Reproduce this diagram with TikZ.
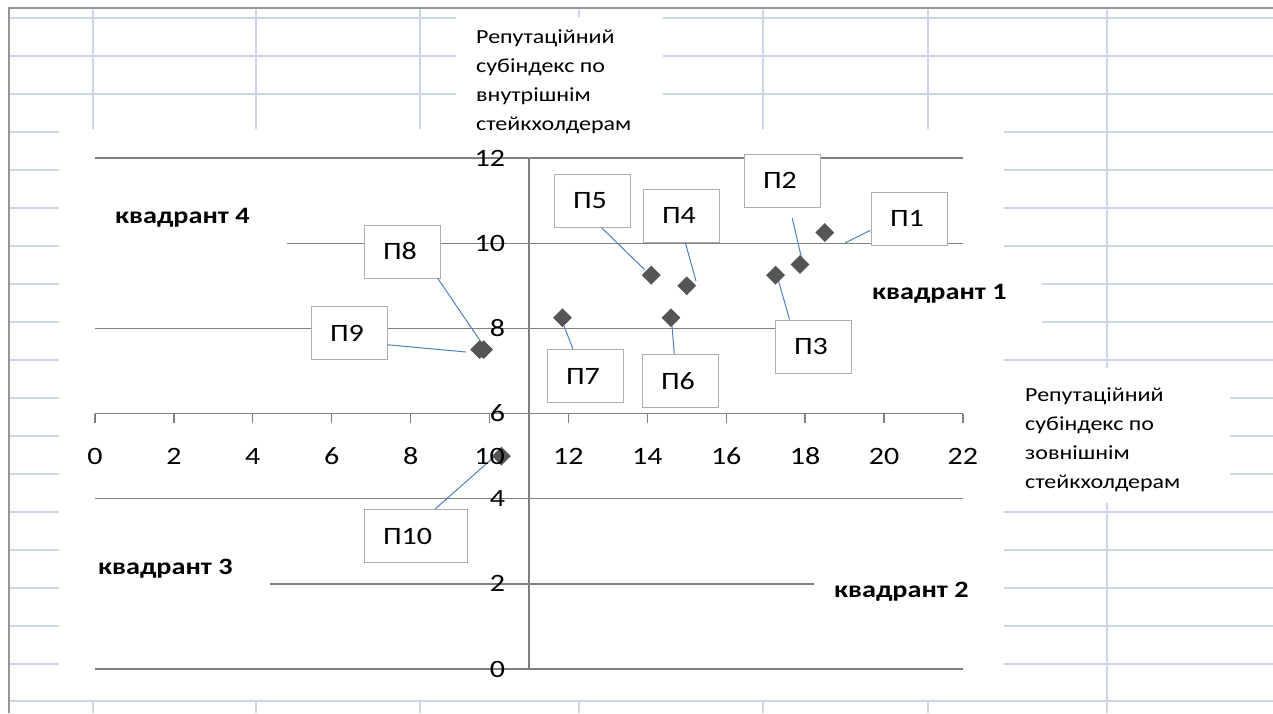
\documentclass[tikz,border=0pt]{standalone}
\usepackage{fontspec}
\setmainfont{Carlito}[FakeStretch=1.2]
\usetikzlibrary{shapes.geometric}

\definecolor{cellline}{RGB}{205,213,235}
\definecolor{framegray}{RGB}{150,150,150}
\definecolor{gridgray}{RGB}{128,128,128}
\definecolor{markgray}{RGB}{85,85,85}
\definecolor{boxgray}{RGB}{175,175,175}
\definecolor{leaderblue}{RGB}{79,129,189}

\tikzset{
	cell/.style={draw=cellline, line width=1.3pt},
	gridline/.style={draw=gridgray, line width=1.3pt},
	chart/.style={shift={(95,669)}, x=39.45pt, y=42.58pt},
	point/.style={diamond, fill=markgray, inner sep=0pt, minimum width=19pt, minimum height=19pt},
	pbox/.style={draw=boxgray, line width=1pt, fill=white, inner xsep=19pt, inner ysep=0pt, text width=38pt, minimum height=53pt, align=left, font=\fontsize{25}{25}\selectfont},
	leader/.style={draw=leaderblue, line width=1pt},
	quadrant/.style={inner sep=0pt, anchor=base west, font=\bfseries\fontsize{23.5}{23.5}\selectfont},
	ticklabel/.style={inner sep=0pt, font=\fontsize{25}{25}\selectfont},
	axistitle/.style={inner sep=0pt, anchor=base west, align=left, font=\fontsize{20}{29}\selectfont}
}

\begin{document}
\begin{tikzpicture}[x=1pt, y=-1pt]
	\useasboundingbox[fill=white] (0,0) rectangle (1273,713);
	
	% Worksheet - cell lines around the chart
	\foreach \y in {18,56,94} {
		\draw[cell] (9,\y) -- (456,\y);
		\draw[cell] (663,\y) -- (1273,\y);
	}
	\foreach \y in {132,170,...,664} \draw[cell] (9,\y) -- (59,\y);
	\foreach \y in {132,170,208,246,360,512,550,588,626,664} \draw[cell] (1004,\y) -- (1273,\y);
	\foreach \y in {284,322} \draw[cell] (1042,\y) -- (1273,\y);
	\foreach \y in {398,436,474} \draw[cell] (1230,\y) -- (1273,\y);
	\draw[cell] (9,701) -- (1273,701);
	\foreach \x in {93,256,420,763,928} {
		\draw[cell] (\x,8) -- (\x,129);
		\draw[cell] (\x,701) -- (\x,713);
	}
	\draw[cell] (579,8) -- (579,17);
	\draw[cell] (579,701) -- (579,713);
	\draw[cell] (1107,8) -- (1107,368);
	\draw[cell] (1107,503) -- (1107,713);
	\draw[framegray, line width=2pt] (9,713) -- (9,8) -- (1273,8);
	
	% Chart - value grid and axes
	\begin{scope}[chart]
		\draw[gridline] (0,12) -- (22,12);
		\draw[gridline] (4.87,10) -- (22,10);
		\draw[gridline] (0,8) -- (19.19,8);
		\draw[gridline] (0,4) -- (22,4);
		\draw[gridline] (4.44,2) -- (18.23,2);
		\draw[gridline] (0,0) -- (22,0);
		\draw[gridline] (0,6) -- (22,6);
		\draw[gridline] (11,0) -- (11,12);
		\foreach \x in {0,2,...,22} \draw[gridline] (\x,6) -- (\x,5.77);
		\foreach \y in {0,2,...,12} \draw[gridline] (11,\y) -- (10.8,\y);
	\end{scope}
	
	% Data labels
	\node[pbox] (b1) at (909,218.5) {П1};
	\node[pbox] (b2) at (782,180.5) {П2};
	\node[pbox] (b3) at (813,346.5) {П3};
	\node[pbox] (b4) at (681,215.5) {П4};
	\node[pbox] (b5) at (592,201) {П5};
	\node[pbox] (b6) at (680,381) {П6};
	\node[pbox] (b7) at (585,376) {П7};
	\node[pbox] (b8) at (402,251.5) {П8};
	\node[pbox] (b9) at (349,333) {П9};
	\node[pbox, text width=65pt] (b10) at (415.5,536) {П10};
	
	% Leader lines
	\coordinate (t1) at (845,243);
	\coordinate (t2) at (802,260);
	\coordinate (t3) at (778,279);
	\coordinate (t4) at (696,281);
	\coordinate (t5) at (645,270);
	\coordinate (t6) at (672,326);
	\coordinate (t7) at (564,326);
	\coordinate (t8) at (481,342);
	\coordinate (t9) at (466,352);
	\coordinate (t10) at (494,457);
	\draw[leader] (b1.197) -- (t1);
	\draw[leader, shorten <=11pt] (b2.286) -- (t2);
	\draw[leader] (b3.131) -- (t3);
	\draw[leader] (b4.279) -- (t4);
	\draw[leader] (b5.290) -- (t5);
	\draw[leader] (b6.102) -- (t6);
	\draw[leader] (b7.114) -- (t7);
	\draw[leader] (b8.323) -- (t8);
	\draw[leader] (b9.343) -- (t9);
	\draw[leader] (b10.54) -- (t10);
	
	% Chart - points and tick labels
	\begin{scope}[chart]
		\node[point] (p1) at (18.5,10.25) {};
		\node[point] (p2) at (17.87,9.5) {};
		\node[point] (p3) at (17.25,9.25) {};
		\node[point] (p4) at (15,9) {};
		\node[point] (p5) at (14.1,9.25) {};
		\node[point] (p6) at (14.6,8.25) {};
		\node[point] (p7) at (11.85,8.25) {};
		\node[point] (p8) at (9.85,7.5) {};
		\node[point] (p9) at (9.75,7.5) {};
		\node[point] (p10) at (10.3,5) {};
		\foreach \x in {0,2,...,22} \node[ticklabel] (xl\x) at (\x,5) {\x};
		\foreach \y in {0,2,...,12} \node[ticklabel, anchor=east] (yl\y) at (10.4,\y) {\y};
	\end{scope}
	
	% Axis titles and quadrant names
	\node[axistitle] (ytitle) at (476,130) {Репутаційний\\субіндекс по\\внутрішнім\\стейкхолдерам};
	\node[axistitle] (xtitle) at (1025,488) {Репутаційний\\субіндекс по\\зовнішнім\\стейкхолдерам};
	\node[quadrant] (q1) at (872,299) {квадрант 1};
	\node[quadrant] (q2) at (834,597) {квадрант 2};
	\node[quadrant] (q3) at (98,574) {квадрант 3};
	\node[quadrant] (q4) at (115,223) {квадрант 4};
\end{tikzpicture}
\end{document}
